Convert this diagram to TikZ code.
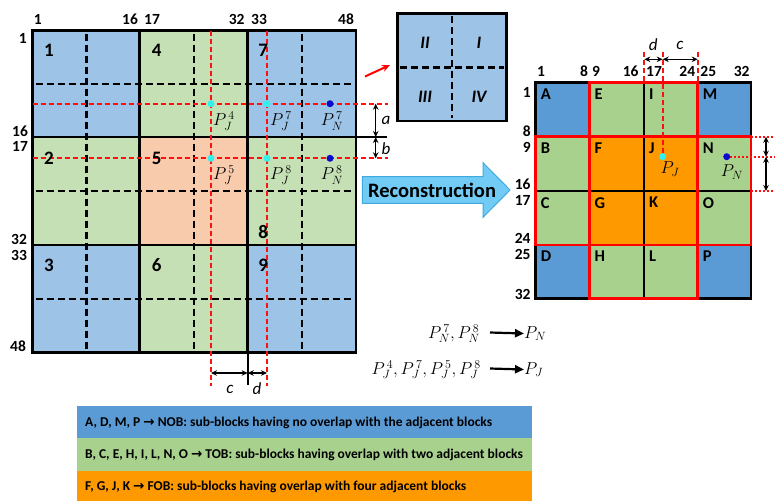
\documentclass[tikz,border=0pt]{standalone}
\usepackage{fontspec}
\setmainfont{Carlito}
\newfontfamily\arrowfont{DejaVu Sans}
\usetikzlibrary{arrows.meta}
\definecolor{lblue}{HTML}{9DC3E6}
\definecolor{lgreen}{HTML}{C5E0B4}
\definecolor{lsalmon}{HTML}{F8CBAD}
\definecolor{rblue}{HTML}{5B9BD5}
\definecolor{rgreen}{HTML}{A9D18E}
\definecolor{rorange}{HTML}{FF9900}
\definecolor{reconfill}{HTML}{72CBF5}
\definecolor{reconedge}{HTML}{3FA9E0}
\definecolor{cyandot}{HTML}{33F0F0}
\definecolor{bluedot}{HTML}{0A0ACC}
\definecolor{dashred}{HTML}{FF1010}
\tikzset{
  gnum/.style={font=\bfseries\fontsize{15.5}{15.5}\selectfont, inner sep=0pt},
  bnum/.style={font=\bfseries\fontsize{19}{19}\selectfont, inner sep=0pt},
  cellname/.style={font=\bfseries\fontsize{16.5}{16.5}\selectfont, inner sep=0pt, anchor=north west},
  roman/.style={font=\bfseries\itshape\fontsize{17.5}{17.5}\selectfont, inner sep=0pt},
  plabel/.style={font=\fontsize{17}{17}\selectfont, inner sep=0pt},
  dimlabel/.style={font=\itshape\fontsize{17}{17}\selectfont, inner sep=0pt},
  blackdash/.style={line width=2.4pt, dash pattern=on 7pt off 4pt},
  reddash/.style={dashred, line width=1.8pt, dash pattern=on 5pt off 3pt},
  reddot/.style={dashred, line width=1.8pt, dash pattern=on 2pt off 2pt},
  border/.style={line width=2.8pt, line cap=rect},
  dimarrow/.style={line width=1.4pt, {Stealth[length=6pt,width=5.5pt]}-{Stealth[length=6pt,width=5.5pt]}},
  cdot/.style={circle, fill=cyandot, inner sep=0pt, minimum size=7pt},
  bdot/.style={circle, fill=bluedot, inner sep=0pt, minimum size=7pt},
  legendtext/.style={font=\bfseries\fontsize{13.5}{13.5}\selectfont, inner sep=0pt, anchor=west},
}
\begin{document}
\begin{tikzpicture}[x=1pt,y=-1pt]
\useasboundingbox (0,0) rectangle (775,501);
% ---------------- left grid ----------------
\def\XA{32.5}\def\XB{139.5}\def\XC{247.7}\def\XD{356}
\def\YA{30.7}\def\YB{137}\def\YC{245}\def\YD{352.7}
\fill[lblue] (\XA,\YA) rectangle (\XB,\YB);
\fill[lgreen] (\XB,\YA) rectangle (\XC,\YB);
\fill[lblue] (\XC,\YA) rectangle (\XD,\YB);
\fill[lgreen] (\XA,\YB) rectangle (\XB,\YC);
\fill[lsalmon] (\XB,\YB) rectangle (\XC,\YC);
\fill[lgreen] (\XC,\YB) rectangle (\XD,\YC);
\fill[lblue] (\XA,\YC) rectangle (\XB,\YD);
\fill[lgreen] (\XB,\YC) rectangle (\XC,\YD);
\fill[lblue] (\XC,\YC) rectangle (\XD,\YD);
% dashed sub-block lines
\foreach \x in {86.5,193.8,302}
  \draw[blackdash] (\x,\YA+3) -- (\x,\YD-3);
\foreach \y in {84,191,299}
  \draw[blackdash] (\XA+3,\y) -- (\XD-3,\y);
% block borders
\draw[border] (\XA,\YA) rectangle (\XD,\YD);
\draw[border] (\XB,\YA) -- (\XB,\YD);
\draw[border] (\XC,\YA) -- (\XC,\YD);
\draw[border] (\XA,\YB) -- (\XD,\YB);
\draw[border] (\XA,\YC) -- (\XD,\YC);
% extended lines
\coordinate (hx) at (387,\YB);
\coordinate (vx) at (\XC,385);
\draw[line width=2pt] (\XD,\YB) -- (hx);
\draw[line width=2pt] (\XC,\YD) -- (vx);
% red dashed guide lines
\draw[reddash] (211,\YA) -- (211,386);
\draw[reddash] (267,\YA) -- (267,386);
\draw[reddash] (\XA,103.7) -- (388,103.7);
\draw[reddash] (\XA,158.3) -- (388,158.3);
% dots
\node[cdot] (pj4) at (211,103.7) {};
\node[cdot] (pj7) at (267,103.7) {};
\node[bdot] (pn7) at (330,103.7) {};
\node[cdot] (pj5) at (211,158.3) {};
\node[cdot] (pj8) at (267,158.3) {};
\node[bdot] (pn8) at (330,158.3) {};
\node[plabel] (lpj4) at (224,121) {$P_J^{\,4}$};
\node[plabel] (lpj7) at (281,121) {$P_J^{\,7}$};
\node[plabel] (lpn7) at (332,121) {$P_N^{\,7}$};
\node[plabel] (lpj5) at (224,175) {$P_J^{\,5}$};
\node[plabel] (lpj8) at (281,175) {$P_J^{\,8}$};
\node[plabel] (lpn8) at (332,175) {$P_N^{\,8}$};
% a, b dimensions
\coordinate (a1) at (375.7,103.7);
\coordinate (a2) at (375.7,\YB);
\coordinate (b2) at (375.7,158.3);
\draw[dimarrow] (a1) -- (a2);
\draw[dimarrow] (a2) -- (b2);
\node[dimlabel] (la) at (386,120) {a};
\node[dimlabel] (lb) at (386,149) {b};
% c, d dimensions
\coordinate (c1) at (211,373);
\coordinate (c2) at (\XC,373);
\coordinate (d2) at (267,373);
\draw[dimarrow] (c1) -- (c2);
\draw[dimarrow] (c2) -- (d2);
\node[dimlabel] (lc) at (230,389) {c};
\node[dimlabel] (ld) at (257,389) {d};
% grid numbers
\node[gnum] (t1) at (37.7,19.3) {1};
\node[gnum] (t16) at (130,19.3) {16};
\node[gnum] (t17) at (152,19.3) {17};
\node[gnum] (t32) at (236.7,19.3) {32};
\node[gnum] (t33) at (259,19.3) {33};
\node[gnum] (t48) at (346,19.3) {48};
\node[gnum] (l1) at (22.7,38) {1};
\node[gnum] (l16) at (20,130.8) {16};
\node[gnum] (l17) at (20,146.2) {17};
\node[gnum] (l32) at (19,239.5) {32};
\node[gnum] (l33) at (19,255) {33};
\node[gnum] (l48) at (18,346.5) {48};
% block numbers
\node[bnum] (n1) at (49,50) {1};
\node[bnum] (n4) at (156.7,50) {4};
\node[bnum] (n7) at (263.3,50) {7};
\node[bnum] (n2) at (49,158) {2};
\node[bnum] (n5) at (156.7,158) {5};
\node[bnum] (n8) at (263.3,231.7) {8};
\node[bnum] (n3) at (49,265) {3};
\node[bnum] (n6) at (156.7,265) {6};
\node[bnum] (n9) at (263.3,265) {9};
% ---------------- quadrant box ----------------
\fill[lblue] (397.3,13.3) rectangle (506.7,121);
\draw[blackdash] (452,16) -- (452,118);
\draw[blackdash] (400,67.3) -- (504,67.3);
\draw[border] (397.3,13.3) rectangle (506.7,121);
\node[roman] (q2) at (425,42.7) {II};
\node[roman] (q1) at (479,42.7) {I};
\node[roman] (q3) at (425,96.7) {III};
\node[roman] (q4) at (479,96.7) {IV};
\coordinate (ra1) at (365,76.5);
\coordinate (ra2) at (390,65);
\draw[red, line width=2pt, -{Stealth[length=8pt,width=7pt]}] (ra1) -- (ra2);
% ---------------- reconstruction arrow ----------------
\fill[reconfill, draw=reconedge, line width=1pt] (362.3,176.7) -- (483,176.7) -- (483,162.7) -- (510,190) -- (483,217.3) -- (483,203.3) -- (362.3,203.3) -- cycle;
\node[font=\bfseries\fontsize{20.5}{20.5}\selectfont, inner sep=0pt] (recon) at (432,190.5) {Reconstruction};
% ---------------- right grid ----------------
\def\RA{535.7}\def\RB{589.5}\def\RC{644}\def\RD{697.7}\def\RE{751}
\def\SA{82.7}\def\SB{136.7}\def\SC{191}\def\SD{245}\def\SE{298.3}
\fill[rblue] (\RA,\SA) rectangle (\RB,\SB);
\fill[rgreen] (\RB,\SA) rectangle (\RD,\SB);
\fill[rblue] (\RD,\SA) rectangle (\RE,\SB);
\fill[rgreen] (\RA,\SB) rectangle (\RB,\SD);
\fill[rorange] (\RB,\SB) rectangle (\RD,\SD);
\fill[rgreen] (\RD,\SB) rectangle (\RE,\SD);
\fill[rblue] (\RA,\SD) rectangle (\RB,\SE);
\fill[rgreen] (\RB,\SD) rectangle (\RD,\SE);
\fill[rblue] (\RD,\SD) rectangle (\RE,\SE);
\draw[border] (\RA,\SA) rectangle (\RE,\SE);
\draw[border] (\RC,\SA) -- (\RC,\SE);
\draw[border] (\RA,\SC) -- (\RE,\SC);
\draw[border, red] (\RB,\SA) rectangle (\RD,\SE);
\draw[border, red] (\RA,\SB) rectangle (\RE,\SD);
% cell names
\foreach \name/\x/\y in {A/\RA/\SA,E/\RB/\SA,I/\RC/\SA,M/\RD/\SA,
                         B/\RA/\SB,F/\RB/\SB,J/\RC/\SB,N/\RD/\SB,
                         C/\RA/\SC,G/\RB/\SC,K/\RC/\SC,O/\RD/\SC,
                         D/\RA/\SD,H/\RB/\SD,L/\RC/\SD,P/\RD/\SD}
  \node[cellname] (cell\name) at (\x+5,\y+6) {\name};
% right grid numbers
\node[gnum] (rt1) at (541,71.7) {1};
\node[gnum] (rt8) at (584,71.7) {8};
\node[gnum] (rt9) at (596,71.7) {9};
\node[gnum] (rt16) at (630.7,71.7) {16};
\node[gnum] (rt17) at (654,71.7) {17};
\node[gnum] (rt24) at (687.3,71.7) {24};
\node[gnum] (rt25) at (708.3,71.7) {25};
\node[gnum] (rt32) at (741.7,71.7) {32};
\node[gnum] (rl1) at (526.7,92.5) {1};
\node[gnum] (rl8) at (526.7,131) {8};
\node[gnum] (rl9) at (526.7,147) {9};
\node[gnum] (rl16) at (522.7,183.8) {16};
\node[gnum] (rl17) at (522.7,200) {17};
\node[gnum] (rl24) at (522.7,238.5) {24};
\node[gnum] (rl25) at (522.7,254.2) {25};
\node[gnum] (rl32) at (522.7,294) {32};
% top dimensions d, c
\node[cdot] (pj) at (662.7,156.7) {};
\node[bdot] (pn) at (726.7,156.7) {};
\draw[reddash] (644.3,51.7) -- (644.3,\SA);
\draw[reddash] (662.7,51.7) -- (pj);
\draw[reddash] (697.7,51.7) -- (697.7,\SA);
\coordinate (rd1) at (644.3,59.3);
\coordinate (rd2) at (662.7,59.3);
\coordinate (rc2) at (697.7,59.3);
\draw[dimarrow] (rd1) -- (rd2);
\draw[dimarrow] (rd2) -- (rc2);
\node[dimlabel] (rld) at (653.3,45) {d};
\node[dimlabel] (rlc) at (680,45) {c};
\node[plabel] (lpj) at (670,169) {$P_J$};
\node[plabel] (lpn) at (732,172) {$P_N$};
% right-side dimensions
\coordinate (s1) at (775,\SB);
\coordinate (s2) at (775,156.7);
\coordinate (s3) at (775,\SC);
\draw[reddot] (\RE,\SB) -- (s1);
\draw[reddot] (pn) -- (s2);
\draw[reddot] (\RE,\SC) -- (s3);
\coordinate (sa1) at (766,\SB);
\coordinate (sa2) at (766,156.7);
\coordinate (sa3) at (766,\SC);
\draw[dimarrow] (sa1) -- (sa2);
\draw[dimarrow] (sa2) -- (sa3);
% ---------------- formulas ----------------
\node[plabel, anchor=east] (fn) at (480,333.5) {$P_N^{\,7}, P_N^{\,8}$};
\node[plabel, anchor=west] (fnr) at (524,333.5) {$P_N$};
\coordinate (fna) at (490,332.5);
\draw[line width=2.2pt, -{Triangle[length=9pt,width=8pt]}] (fna) -- (fnr.west);
\node[plabel, anchor=east] (fj) at (481,369.5) {$P_J^{\,4}, P_J^{\,7}, P_J^{\,5}, P_J^{\,8}$};
\node[plabel, anchor=west] (fjr) at (524,369.5) {$P_J$};
\coordinate (fja) at (490,368.5);
\draw[line width=2.2pt, -{Triangle[length=9pt,width=8pt]}] (fja) -- (fjr.west);
% ---------------- legend ----------------
\fill[rblue] (76.7,406) rectangle (531.7,438.3);
\fill[rgreen] (76.7,438.3) rectangle (531.7,471);
\fill[rorange] (76.7,471) rectangle (531.7,501);
\node[legendtext] (leg1) at (85,422.5) {A, D, M, P {\arrowfont\bfseries →} NOB: sub-blocks having no overlap with the adjacent blocks};
\node[legendtext] (leg2) at (85,455) {B, C, E, H, I, L, N, O {\arrowfont\bfseries →} TOB: sub-blocks having overlap with two adjacent blocks};
\node[legendtext] (leg3) at (85,487) {F, G, J, K {\arrowfont\bfseries →} FOB: sub-blocks having overlap with four adjacent blocks};
\end{tikzpicture}
\end{document}
